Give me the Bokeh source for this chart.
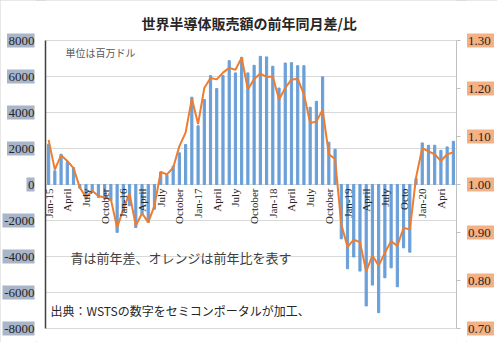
import numpy as np
from bokeh.plotting import figure
from bokeh.layouts import row
from bokeh.models import (Range1d, LinearAxis, FixedTicker, PrintfTickFormatter,
                          ColumnDataSource, Label)
from bokeh.core.properties import value
from bokeh.embed import file_html
from bokeh.resources import INLINE

months = ["Jan-15", "Feb-15", "Mar-15", "Apr-15", "May-15", "Jun-15", "Jul-15", "Aug-15", "Sep-15", "Oct-15", "Nov-15", "Dec-15",
          "Jan-16", "Feb-16", "Mar-16", "Apr-16", "May-16", "Jun-16", "Jul-16", "Aug-16", "Sep-16", "Oct-16", "Nov-16", "Dec-16",
          "Jan-17", "Feb-17", "Mar-17", "Apr-17", "May-17", "Jun-17", "Jul-17", "Aug-17", "Sep-17", "Oct-17", "Nov-17", "Dec-17",
          "Jan-18", "Feb-18", "Mar-18", "Apr-18", "May-18", "Jun-18", "Jul-18", "Aug-18", "Sep-18", "Oct-18", "Nov-18", "Dec-18",
          "Jan-19", "Feb-19", "Mar-19", "Apr-19", "May-19", "Jun-19", "Jul-19", "Aug-19", "Sep-19", "Oct-19", "Nov-19", "Dec-19",
          "Jan-20", "Feb-20", "Mar-20", "Apr-20", "May-20", "Jun-20"]

# year-over-year difference (million USD)
diff = [2240, 760, 1680, 1260, 940, -200, -810, -440, -720, -810, -900, -2660,
        -1550, -1180, -2390, -1650, -2110, -1370, 700, 520, 1020, 1760, 2220, 4850,
        3260, 4720, 6050, 5330, 6050, 6880, 6200, 7070, 6200, 6620, 7120, 7090,
        6570, 5360, 6750, 6770, 6600, 6600, 4290, 4620, 5980, 2350, 1960, -3020,
        -4680, -4030, -4810, -6750, -5590, -7120, -5180, -4630, -5680, -3520, -3760, 330,
        2310, 2180, 2180, 1900, 2090, 2400]

# year-over-year ratio
ratio = [1.093, 1.031, 1.061, 1.049, 1.034, 0.994, 0.973, 0.987, 0.976, 0.973, 0.969, 0.910,
         0.949, 0.981, 0.914, 0.940, 0.921, 0.956, 1.026, 1.021, 1.035, 1.080, 1.108, 1.179,
         1.126, 1.201, 1.222, 1.219, 1.233, 1.243, 1.239, 1.264, 1.198, 1.220, 1.231, 1.224,
         1.225, 1.177, 1.201, 1.219, 1.220, 1.188, 1.128, 1.131, 1.156, 1.063, 1.053, 0.917,
         0.870, 0.885, 0.880, 0.819, 0.852, 0.831, 0.858, 0.882, 0.872, 0.910, 0.906, 1.014,
         1.076, 1.069, 1.063, 1.049, 1.063, 1.067]

# category labels shown (every 3 months)
tick_labels = ["Jan-15", "April", "July", "October", "Jan-16", "April", "July", "October",
               "Jan-17", "April", "July", "October", "Jan-18", "April", "July", "October",
               "Jan-19", "April", "July", "Octo", "Jan-20", "Apri"]

left_ticks = [-8000, -6000, -4000, -2000, 0, 2000, 4000, 6000, 8000]
left_labels = ["-8000", "-6000", "-4000", "-2000", "0", "2000", "4000", "6000", "8000"]
right_ticks = [0.70, 0.80, 0.90, 1.00, 1.10, 1.20, 1.30]
right_labels = ["0.70", "0.80", "0.90", "1.00", "1.10", "1.20", "1.30"]

title_text = "世界半導体販売額の前年同月差/比"
unit_text = "単位は百万ドル"
note_text = "青は前年差、オレンジは前年比を表す"
source_text = "出典：WSTSの数字をセミコンポータルが加工、"

H = 342
TOP, BOTTOM = 40, 14          # plot area margins inside the canvas
LW, MW = 36, 430
RW = 497 - LW - MW
FRAME_H = H - TOP - BOTTOM

n = len(months)
idx = np.arange(n)
src = ColumnDataSource(dict(x=idx, diff=diff, ratio=ratio))
lab_src = ColumnDataSource(dict(x=idx[::3][:len(tick_labels)], y=[0] * len(tick_labels), t=tick_labels))

y_left = Range1d(-8000, 8000)
y_right = Range1d(0.70, 1.30)


def full_height_range(r):
    # same scale as the plot area, but spanning the whole canvas height
    per_px = (r.end - r.start) / FRAME_H
    return Range1d(r.start - BOTTOM * per_px, r.end + TOP * per_px)


yl_full = full_height_range(y_left)
yr_full = full_height_range(y_right)


def strip(width, yr):
    f = figure(width=width, height=H, output_backend="svg", toolbar_location=None,
               x_range=Range1d(0, width), y_range=yr, title=None,
               x_axis_location=None, y_axis_location=None,
               min_border=0, min_border_left=0, min_border_right=0,
               min_border_top=0, min_border_bottom=0)
    f.outline_line_color = None
    f.grid.visible = False
    f.background_fill_color = "white"
    f.border_fill_color = "white"
    return f


# ---------- main chart ----------
p = figure(width=MW, height=H, output_backend="svg", toolbar_location=None,
           x_range=Range1d(-0.5, n - 0.5), y_range=yl_full, title=None,
           min_border_left=9, min_border_right=10, min_border_top=0, min_border_bottom=0)
p.outline_line_color = None
p.background_fill_color = "white"
p.border_fill_color = "white"

p.xaxis.visible = False
p.xgrid.visible = False

p.extra_y_ranges = {"ratio": yr_full}

yax = p.yaxis[0]
yax.ticker = FixedTicker(ticks=left_ticks)
yax.bounds = (y_left.start, y_left.end)
yax.major_tick_line_color = None
yax.major_tick_out = 0
yax.minor_tick_line_color = None
yax.axis_line_color = "#404040"
yax.axis_line_width = 1.5
yax.major_label_text_color = None
yax.major_label_text_font_size = "1px"
yax.major_label_standoff = 0

p.ygrid.ticker = FixedTicker(ticks=left_ticks)
p.ygrid.grid_line_color = "#d9d9d9"
p.ygrid.grid_line_width = 1

rax = LinearAxis(y_range_name="ratio", ticker=FixedTicker(ticks=right_ticks),
                 formatter=PrintfTickFormatter(format="%.2f"))
rax.bounds = (y_right.start, y_right.end)
rax.axis_line_color = "#bfbfbf"
rax.major_tick_line_color = "#bfbfbf"
rax.major_tick_out = 4
rax.major_tick_in = 0
rax.minor_tick_line_color = None
rax.major_label_text_color = None
rax.major_label_text_font_size = "1px"
rax.major_label_standoff = 0
p.add_layout(rax, "right")

p.vbar(x="x", top="diff", width=0.35, source=src, color="#6a9fd8")
p.line(x="x", y="ratio", source=src, y_range_name="ratio", line_color="#ed7d31", line_width=2)

p.text(x="x", y="y", text="t", source=lab_src, angle=np.pi / 2, text_align="right",
       text_baseline="middle", y_offset=4, text_font=value("Liberation Serif"),
       text_font_size="11px", text_color="#262626")

p.add_layout(Label(x=(n - 1) / 2 - 0.3, y=9000, text=title_text, text_align="center",
                   text_baseline="middle", text_font="Noto Sans CJK JP",
                   text_font_size="14px", text_font_style="bold", text_color="#262626"))
p.add_layout(Label(x=2.7, y=7330, text=unit_text, text_font="Noto Sans CJK JP",
                   text_font_size="10px", text_color="#595959", text_baseline="middle"))
p.add_layout(Label(x=3.5, y=-4050, text=note_text, text_font="Noto Sans CJK JP",
                   text_font_size="13px", text_color="#404040", text_baseline="middle"))
p.add_layout(Label(x=0.3, y=-7000, text=source_text, text_font="Noto Sans CJK JP",
                   text_font_size="12px", text_color="#262626", text_baseline="middle"))

# ---------- left tick-label strip ----------
pl = strip(LW, yl_full)
lw = [6.5 * len(s.lstrip("-")) + (4.5 if s.startswith("-") else 0) + 1.5 for s in left_labels]
pl.rect(x=[34 - w / 2 for w in lw], y=left_ticks, width=lw, height=14,
        width_units="screen", height_units="screen", fill_color="#a9b6c9", line_color=None)
for t, s in zip(left_ticks, left_labels):
    pl.add_layout(Label(x=34, y=t, text=s, text_align="right", text_baseline="middle",
                        text_font="Liberation Serif", text_font_size="13px",
                        text_color="#262626"))

# ---------- right tick-label strip ----------
pr = strip(RW, yr_full)
pr.rect(x=[14] * len(right_ticks), y=right_ticks, width=27, height=14,
        width_units="screen", height_units="screen", fill_color="#f5b183", line_color=None)
for t, s in zip(right_ticks, right_labels):
    pr.add_layout(Label(x=1.5, y=t, text=s, text_align="left", text_baseline="middle",
                        text_font="Liberation Serif", text_font_size="13px",
                        text_color="#262626"))

layout = row(pl, p, pr, spacing=0,
             styles={"outline": "1px solid #d0d0d0", "outline-offset": "-1px"})
open("out.html", "w").write(file_html(layout, INLINE))
